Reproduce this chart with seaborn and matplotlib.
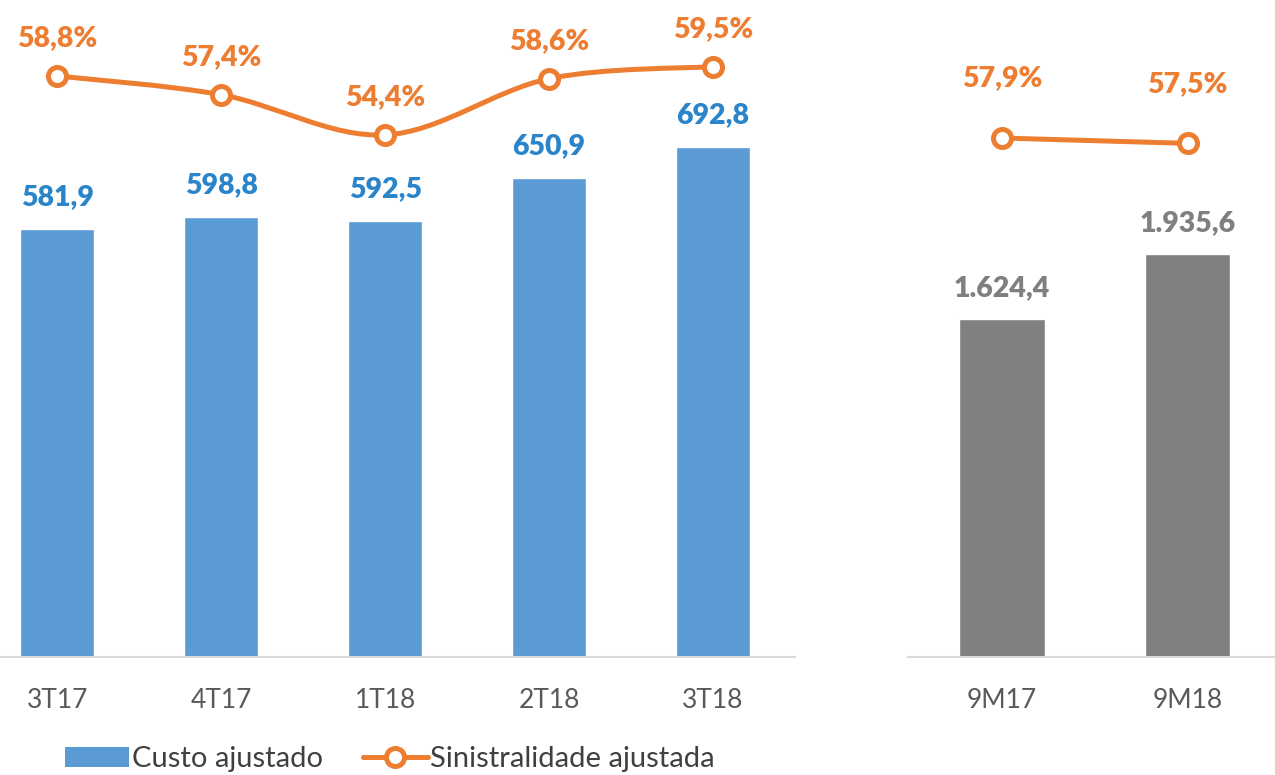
import numpy as np
import matplotlib
matplotlib.use("Agg")
import matplotlib.pyplot as plt
from matplotlib.path import Path
from matplotlib.patches import PathPatch, Patch
from matplotlib.lines import Line2D
import seaborn as sns

sns.set_style("white")
plt.rcParams['font.family'] = ['Lato', 'DejaVu Sans']

# dados
trimestres = ["3T17", "4T17", "1T18", "2T18", "3T18"]
custo_tri = [581.9, 598.8, 592.5, 650.9, 692.8]
sinistr_tri = [58.8, 57.4, 54.4, 58.6, 59.5]

acumulados = ["9M17", "9M18"]
custo_9m = [1624.4, 1935.6]
sinistr_9m = [57.9, 57.5]

AZUL = "#5B9BD5"
AZUL_TXT = "#2A84C9"
LARANJA = "#ED7D31"
CINZA = "#808080"
CINZA_TXT = "#7F7F7F"
TICK = "#595959"


def fmt_br(v):
    s = f"{v:,.1f}"
    return s.replace(",", "X").replace(".", ",").replace("X", ".")


def curva_suave(xs, ys):
    # curva tipo "linha suavizada" do Excel (Catmull-Rom em bezier)
    pts = np.column_stack([xs, ys]).astype(float)
    p = np.vstack([pts[0], pts, pts[-1]])
    verts = [tuple(pts[0])]
    codes = [Path.MOVETO]
    for i in range(1, len(p) - 2):
        p0, p1, p2, p3 = p[i - 1], p[i], p[i + 1], p[i + 2]
        c1 = p1 + (p2 - p0) / 6.0
        c2 = p2 - (p3 - p1) / 6.0
        verts += [tuple(c1), tuple(c2), tuple(p2)]
        codes += [Path.CURVE4] * 3
    return Path(verts, codes)


fig = plt.figure(figsize=(12.75, 7.75), dpi=100)

# ---- painel trimestral ----
ax = fig.add_axes([0.0, 0.1523, 0.6235, 0.8477])
sns.barplot(x=trimestres, y=custo_tri, ax=ax, color=AZUL, width=0.45, saturation=1)
ax.set_ylim(0, 893.3)
ax.set_xlim(-0.35, 4.5)
for i, v in enumerate(custo_tri):
    ax.annotate(fmt_br(v), (i, v), xytext=(0, 23), textcoords="offset points",
                ha="center", va="center", color=AZUL_TXT, fontsize=20.5, fontweight="heavy")

ax2 = ax.twinx()
ax2.set_ylim(15.44, 64.47)
xs = np.arange(len(trimestres))
ax2.add_patch(PathPatch(curva_suave(xs, sinistr_tri), fill=False, edgecolor=LARANJA,
                        lw=3.6, capstyle="round", zorder=3))
ax2.plot(xs, sinistr_tri, ls="none", marker="o", ms=13, mfc="white", mec=LARANJA,
         mew=3.6, zorder=4)
for i, v in enumerate(sinistr_tri):
    ax2.annotate(fmt_br(v) + "%", (i, v), xytext=(0, 27), textcoords="offset points",
                 ha="center", va="center", color=LARANJA, fontsize=20.5, fontweight="heavy")

# ---- painel acumulado ----
bx = fig.add_axes([0.7122, 0.1523, 0.2878, 0.8477])
sns.barplot(x=acumulados, y=custo_9m, ax=bx, color=CINZA, width=0.46, saturation=1)
bx.set_ylim(0, 3157)
bx.set_xlim(-0.505, 1.47)
for i, v in enumerate(custo_9m):
    bx.annotate(fmt_br(v), (i, v), xytext=(0, 22), textcoords="offset points",
                ha="center", va="center", color=CINZA_TXT, fontsize=20.5, fontweight="heavy")

bx2 = bx.twinx()
bx2.set_ylim(19.17, 68.2)
sns.lineplot(x=np.arange(len(acumulados)), y=sinistr_9m, ax=bx2, color=LARANJA, lw=3.6,
             marker="o", ms=13, mfc="white", mec=LARANJA, mew=3.6)
for i, v in enumerate(sinistr_9m):
    bx2.annotate(fmt_br(v) + "%", (i, v), xytext=(0, 43), textcoords="offset points",
                 ha="center", va="center", color=LARANJA, fontsize=20.5, fontweight="heavy")

for a in (ax, bx):
    sns.despine(ax=a, left=True, top=True, right=True)
    a.spines["bottom"].set_color("#D9D9D9")
    a.spines["bottom"].set_linewidth(1.5)
    a.set_yticks([])
    a.set_ylabel("")
    a.tick_params(axis="x", length=0, pad=22, labelsize=19, labelcolor=TICK)
for a in (ax2, bx2):
    for s in a.spines.values():
        s.set_visible(False)
    a.set_yticks([])
    a.set_ylabel("")

handles = [Patch(facecolor=AZUL, edgecolor="none"),
           Line2D([0], [0], color=LARANJA, lw=3.6, marker="o", ms=13, mfc="white",
                  mec=LARANJA, mew=3.6)]
fig.legend(handles, ["Custo ajustado", "Sinistralidade ajustada"], loc="lower left",
           bbox_to_anchor=(0.03, -0.03), ncol=2, frameon=False, fontsize=21,
           labelcolor="#404040", handlelength=2.2, handletextpad=0.1, columnspacing=1.4)

fig.savefig("out.png", dpi=100)
